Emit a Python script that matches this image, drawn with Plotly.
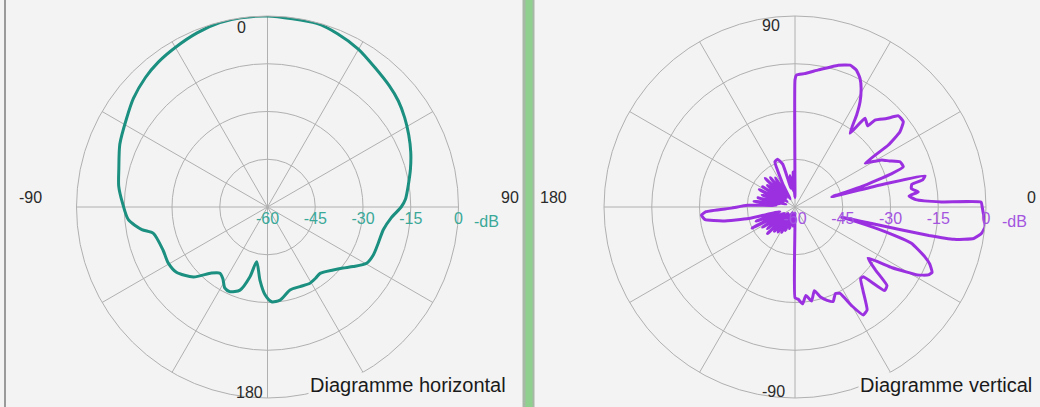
import plotly.graph_objects as go

# ---------------- data ----------------
# Horizontal pattern (angle clockwise from top, dB)
H_THETA = [0, 15, 22, 30, 37.6, 45, 51, 57, 63, 69, 75, 81, 86.8, 90, 95, 101, 108, 114.4, 119.6,
           124.8, 129, 133.8, 141.6, 146, 150.9, 157.8, 164.8, 172.3, 177.5, 181.6, 185.9, 191.2,
           194.1, 198.3, 203.9, 207.7, 212, 215.7, 220.3, 226.6, 234.4, 240.5, 247.5, 257, 259.8,
           264.8, 271.7, 278, 284.3, 293, 302.2, 309, 316.7, 323, 330.1, 338, 345.5, 352, 360]
H_DB = [0, -0.3, -1.3, -2.8, -4.7, -6.0, -7.1, -8.6, -10.2, -11.8, -13.5, -15.2, -16.6, -18.0, -21.0,
        -22.9, -23.4, -23.5, -24.2, -27.2, -29.5, -31.4, -33.4, -33.0, -32.6, -33.0, -33.0, -30.5,
        -30.2, -32.4, -36.9, -42.5, -37.4, -32.5, -30.9, -31.2, -33.5, -34.4, -32.8, -28.0, -24.8,
        -24.2, -24.5, -23.2, -19.9, -16.1, -14.4, -12.8, -11.8, -9.6, -7.7, -5.8, -4.1, -3.0, -2.1,
        -1.0, -0.2, 0, 0]

# Vertical pattern (angle counter-clockwise from right, dB)
V_THETA = [-90, -88, -85.5, -83, -80, -77, -74, -71, -68, -65, -62.5, -60, -57.7, -55, -51, -47.5,
           -45.6, -43, -40.5, -38, -35, -32, -29, -27, -25.5, -23, -21, -17.3, -15.3, -13.5, -12.5,
           -12.2, -12, -11.5, -10, -8, -6, -4, -2, 0, 1.5, 2, 3.5, 5.5, 7, 9, 11, 12, 13.5, 14.5,
           15.5, 17, 19, 20.4, 23.3, 26, 28.5, 30.5, 32, 33.6, 35.6, 38.2, 41.4, 44, 47.4, 48.2,
           51.7, 53.3, 56.2, 58.3, 60.9, 63.2, 65.8, 68.8, 73, 80.3, 86, 89.3, 90,
           90.5, 93, 96, 99, 102, 106, 110, 114, 118, 121, 124, 127, 130, 133, 136, 139, 142, 145,
           148, 151, 154, 157, 160, 163, 166, 169, 172, 175, 178, 181, 183, 185, 188, 191, 194,
           197, 200, 203, 206, 209, 212, 215, 218, 221, 224, 227, 230, 233, 236, 239, 242, 245,
           248, 252, 256, 260, 264, 267, 269.5, 270]
V_DB = [-31.5, -31, -29.5, -32, -30, -33, -30.5, -29, -28, -30, -29.4, -24, -19.9, -20.5, -26, -29.5,
        -29.3, -21.5, -22, -28, -32, -24, -16, -13, -12.3, -14, -16.3, -21.7, -30.7, -40, -45,
        -35, -17, -9, -3, -0.8, 0, -0.3, -0.8, -1.2, -1.5, -14, -22, -24, -21, -23, -22.6, -19,
        -18, -32, -48, -38, -28, -23.7, -24.1, -27, -29, -32, -34, -24.8, -19.5, -16.7, -16.7,
        -20, -22.9, -25.8, -24.5, -31.1, -25.2, -21.1, -17.3, -14.7, -12.9, -12.2, -13.4, -16.3,
        -18, -18.5, -20,
        -57, -49, -55, -50, -54, -46, -44, -44.5, -52, -57, -49, -55, -48, -56, -47, -55, -49, -57,
        -48, -56, -47.5, -55, -49, -57, -48, -55, -47, -54, -45, -40, -32, -30.5, -31.5, -37, -45,
        -55, -47, -54, -45, -56, -48, -55, -49, -57, -48, -55, -50, -57, -50.5, -57, -51, -58,
        -52, -58, -53, -58, -54, -58, -58, -31.5]

RADIAL_TICKS = [-60, -45, -30, -15, 0]
RADIAL_LABELS = ["-60", "-45", "-30", "-15", "0"]
H_ANGLE_LABELS = ["0", "90", "180", "-90"]
V_ANGLE_LABELS = ["90", "0", "-90", "180"]

# ---------------- style ----------------
W, HGT = 1040, 407
BG = "#f3f3f3"
GRID = "#b0b0b0"
H_COLOR = "#1b8f80"
V_COLOR = "#9a30e0"
H_TICK = "#3aa898"
V_TICK = "#a455e0"
R = 191
FONT = "Liberation Sans, Arial"


def px(x, y):
    return x / W, 1 - y / HGT


def dom(cx, cy):
    return dict(x=[(cx - R) / W, (cx + R) / W], y=[1 - (cy + R) / HGT, 1 - (cy - R) / HGT])


def polar(cx, cy, rotation, direction, tickcolor):
    return dict(
        domain=dom(cx, cy),
        bgcolor="rgba(0,0,0,0)",
        radialaxis=dict(range=[-60, 0], tickvals=RADIAL_TICKS, ticktext=RADIAL_LABELS,
                        showline=False, ticks="", angle=0, side="clockwise",
                        gridcolor=GRID, gridwidth=1,
                        tickfont=dict(family=FONT, size=16, color=tickcolor)),
        angularaxis=dict(rotation=rotation, direction=direction, dtick=30,
                         showticklabels=False, ticks="", gridcolor=GRID, gridwidth=1,
                         showline=True, linecolor=GRID, linewidth=1),
    )


fig = go.Figure()
fig.add_trace(go.Scatterpolar(r=H_DB, theta=H_THETA, mode="lines", subplot="polar",
                              line=dict(color=H_COLOR, width=3, shape="spline", smoothing=0.7),
                              cliponaxis=False, showlegend=False))
fig.add_trace(go.Scatterpolar(r=V_DB, theta=V_THETA, mode="lines", subplot="polar2",
                              line=dict(color=V_COLOR, width=3, shape="spline", smoothing=0.4),
                              cliponaxis=False, showlegend=False))

ann = []


def add_text(txt, x, y, size, color, bg=None):
    ax, ay = px(x, y)
    d = dict(text=txt, x=ax, y=ay, xref="paper", yref="paper", showarrow=False,
             xanchor="center", yanchor="middle",
             font=dict(family=FONT, size=size, color=color))
    if bg:
        d.update(bgcolor=bg, borderpad=1)
    ann.append(d)


for txt, (x, y) in zip(H_ANGLE_LABELS, [(241, 27), (510, 197), (249, 392), (30, 197)]):
    add_text(txt, x, y, 16, "#2a2a2a")
for txt, (x, y) in zip(V_ANGLE_LABELS, [(771, 26), (1031, 197), (773, 391), (553, 197)]):
    add_text(txt, x, y, 16, "#2a2a2a")

add_text("-dB", 486, 221, 16, H_TICK)
add_text("-dB", 1014, 221, 16, V_TICK)

add_text("Diagramme horizontal", 408, 385, 20, "#1a1a1a", BG)
add_text("Diagramme vertical", 946, 385, 20, "#1a1a1a", BG)

shapes = [
    dict(type="line", xref="paper", yref="paper", x0=5 / W, x1=5 / W, y0=0, y1=1,
         line=dict(color="#9a9a9a", width=2)),
    dict(type="rect", xref="paper", yref="paper", x0=522.5 / W, x1=534.5 / W, y0=0, y1=1,
         line=dict(width=0), fillcolor="#a7b8a7"),
    dict(type="rect", xref="paper", yref="paper", x0=525.5 / W, x1=532.5 / W, y0=0, y1=1,
         line=dict(width=0), fillcolor="#8fd08f"),
]

fig.update_layout(
    width=W, height=HGT, margin=dict(l=0, r=0, t=0, b=0),
    paper_bgcolor=BG, plot_bgcolor=BG,
    polar=polar(267.5, 207, 90, "clockwise", H_TICK),
    polar2=polar(795, 207, 0, "counterclockwise", V_TICK),
    annotations=ann, shapes=shapes, showlegend=False,
)

fig.write_html("out.html", config={"displayModeBar": False},
               post_script="document.body.style.margin='0px';"
                           "document.body.style.background='" + BG + "';")
